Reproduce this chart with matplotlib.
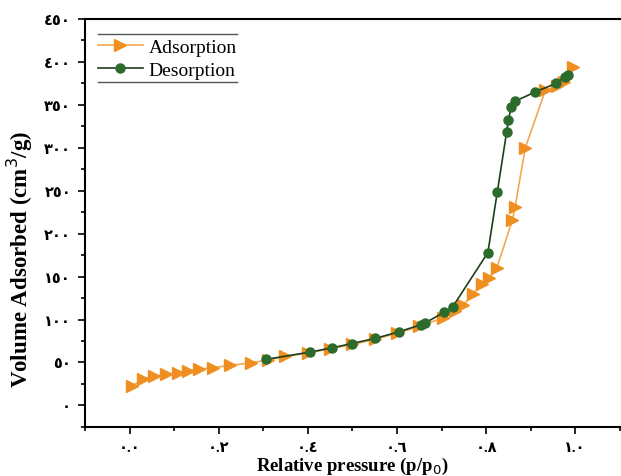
import numpy as np
import matplotlib
matplotlib.use('Agg')
import matplotlib.pyplot as plt
from matplotlib.ticker import MultipleLocator, FuncFormatter

plt.rcParams['font.family'] = ['Liberation Serif', 'DejaVu Sans']

# adsorption branch (p/p0, volume)
ads_x = [0.006, 0.03, 0.055, 0.082, 0.109, 0.13, 0.155, 0.186, 0.225, 0.273,
         0.31, 0.348, 0.40, 0.45, 0.50, 0.55, 0.60, 0.65, 0.703, 0.73, 0.749,
         0.771, 0.79, 0.807, 0.824, 0.859, 0.865, 0.888, 0.933, 0.96, 0.974, 0.996]
ads_y = [22.5, 31, 34, 36, 38, 39.5, 42, 44, 46.5, 49.6,
         53, 57, 61, 66, 71, 77, 84, 92, 102, 110, 117,
         130, 141.5, 148.5, 160, 216, 231, 300, 367, 372, 377, 394.5]

# desorption branch
des_x = [0.984, 0.978, 0.957, 0.91, 0.864, 0.856, 0.85, 0.846, 0.825, 0.804,
         0.725, 0.706, 0.663, 0.653, 0.604, 0.551, 0.498, 0.454, 0.404, 0.305]
des_y = [385, 383, 375, 365, 354, 347, 332, 318, 248, 178,
         114.7, 108.5, 96, 93.8, 85.7, 78, 72, 67, 62, 53.5]

arabic = str.maketrans('0123456789', '٠١٢٣٤٥٦٧٨٩')

def to_arabic(fmt):
    return FuncFormatter(lambda v, pos: (fmt % v).translate(arabic))

fig = plt.figure(figsize=(6.21, 4.77), dpi=100)
ax = fig.add_axes([0.137, 0.103, 0.861, 0.855])

ax.plot(ads_x, ads_y, color='#F4A94E', lw=1.2, marker='>', ms=8,
        mfc='#EF8F22', mec='#EF8F22', label='Adsorption', zorder=2)
ax.plot(des_x, des_y, color='#1E3F1E', lw=1.2, marker='o', ms=6.5,
        mfc='#2B6B2B', mec='#2B6B2B', label='Desorption', zorder=3)

ax.set_xlim(-0.1, 1.1)
ax.set_ylim(-25, 450)
ax.xaxis.set_major_locator(MultipleLocator(0.2))
ax.xaxis.set_minor_locator(MultipleLocator(0.1))
ax.yaxis.set_major_locator(MultipleLocator(50))
ax.yaxis.set_minor_locator(MultipleLocator(25))
ax.xaxis.set_major_formatter(to_arabic('%.1f'))
ax.yaxis.set_major_formatter(to_arabic('%d'))
ax.tick_params(which='both', direction='out', width=1.2, labelsize=10.5)
ax.tick_params(which='major', length=5)
ax.tick_params(which='minor', length=3)
for lbl in ax.get_xticklabels() + ax.get_yticklabels():
    lbl.set_fontweight('bold')
ax.spines['right'].set_visible(False)
for s in ax.spines.values():
    s.set_linewidth(1.5)
ax.tick_params(axis='x', pad=5)
ax.tick_params(axis='y', pad=5)

ax.set_xlabel('Relative pressure (p/p$_0$)', fontsize=13.5, fontweight='bold', labelpad=1)
ax.set_ylabel('Volume Adsorbed (cm$^3$/g)', fontsize=16.5, fontweight='bold')
ax.yaxis.set_label_coords(-0.093, 0.414)

leg = ax.legend(loc='upper left', bbox_to_anchor=(0.024, 0.952), frameon=False,
                fontsize=14, handlelength=2.3, handletextpad=0.3,
                borderpad=0, borderaxespad=0, labelspacing=0.25)
ax.axhline(432, 0.024, 0.284, color='#555555', lw=1)
ax.axhline(376.5, 0.024, 0.284, color='#555555', lw=1)

fig.savefig('out.png', dpi=100)
